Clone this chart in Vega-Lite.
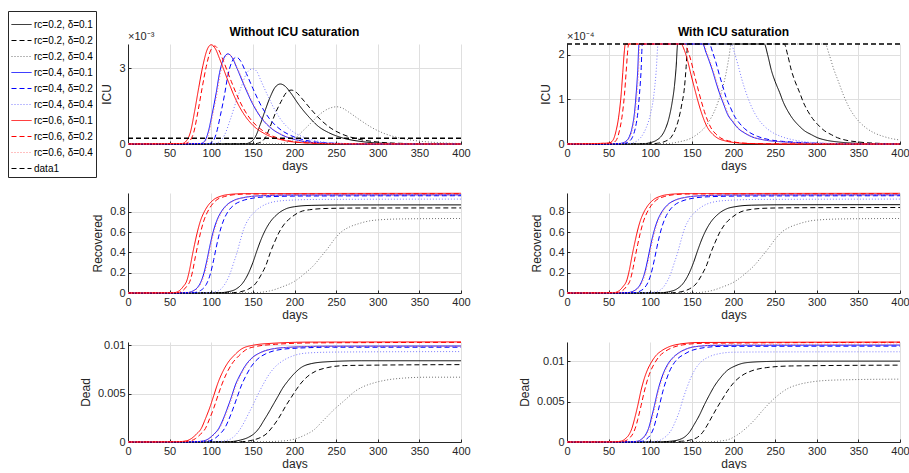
{
"$schema": "https://vega.github.io/schema/vega-lite/v6.json",
"autosize": {"type": "pad"},
"padding": {"left": 7, "top": 10, "right": 0, "bottom": 0},
"bounds": "flush",
"columns": 2,
"spacing": {"row": 49, "column": 106},
"resolve": {"scale": {"color": "shared", "strokeDash": "shared"}, "legend": {"color": "shared", "strokeDash": "shared"}},
"config": {
  "font": "Liberation Sans",
  "view": {"stroke": null},
  "axis": {"labelFont": "Liberation Sans", "labelFontSize": 11, "labelColor": "#262626", "titleFont": "Liberation Sans", "titleFontSize": 12, "titleFontWeight": "normal", "titleColor": "#262626", "domainColor": "#262626", "domainWidth": 1, "tickColor": "#262626", "tickSize": -3, "labelPadding": 6, "gridColor": "#dfdfdf", "gridWidth": 1, "grid": true, "labelFlush": false, "labelOverlap": false},
  "axisX": {"titlePadding": 2},
  "axisY": {"titlePadding": 5},
  "title": {"font": "Liberation Sans", "fontSize": 12, "fontWeight": "bold", "color": "#000000", "offset": -8, "anchor": "middle"}
},
"datasets": {
"iL": [
{"s":"A","d":0,"v":0},{"s":"A","d":141,"v":1.2e-5},{"s":"A","d":147,"v":7.1e-5},{"s":"A","d":153,"v":2.84e-4},{"s":"A","d":159,"v":7.82e-4},{"s":"A","d":165,"v":1.351e-3},{"s":"A","d":171,"v":1.872e-3},{"s":"A","d":177,"v":2.252e-3},{"s":"A","d":183,"v":2.37e-3},{"s":"A","d":189,"v":2.275e-3},{"s":"A","d":195,"v":2.038e-3},{"s":"A","d":206,"v":1.517e-3},{"s":"A","d":218,"v":1.043e-3},{"s":"A","d":229,"v":6.87e-4},{"s":"A","d":241,"v":4.5e-4},{"s":"A","d":258,"v":2.37e-4},{"s":"A","d":281,"v":9.5e-5},{"s":"A","d":310,"v":2.8e-5},{"s":"A","d":356,"v":5e-6},{"s":"A","d":400,"v":1e-6},
{"s":"B","d":0,"v":0},{"s":"B","d":152,"v":1.1e-5},{"s":"B","d":159,"v":6.4e-5},{"s":"B","d":165,"v":2.56e-4},{"s":"B","d":171,"v":7.03e-4},{"s":"B","d":177,"v":1.214e-3},{"s":"B","d":184,"v":1.683e-3},{"s":"B","d":190,"v":2.024e-3},{"s":"B","d":196,"v":2.13e-3},{"s":"B","d":202,"v":2.045e-3},{"s":"B","d":208,"v":1.832e-3},{"s":"B","d":220,"v":1.363e-3},{"s":"B","d":232,"v":9.37e-4},{"s":"B","d":244,"v":6.18e-4},{"s":"B","d":256,"v":4.05e-4},{"s":"B","d":274,"v":2.13e-4},{"s":"B","d":298,"v":8.5e-5},{"s":"B","d":328,"v":2.6e-5},{"s":"B","d":376,"v":4e-6},{"s":"B","d":400,"v":2e-6},
{"s":"C","d":0,"v":0},{"s":"C","d":178,"v":7e-6},{"s":"C","d":188,"v":4.4e-5},{"s":"C","d":199,"v":1.76e-4},{"s":"C","d":209,"v":4.85e-4},{"s":"C","d":220,"v":8.38e-4},{"s":"C","d":230,"v":1.161e-3},{"s":"C","d":241,"v":1.397e-3},{"s":"C","d":251,"v":1.47e-3},{"s":"C","d":258,"v":1.411e-3},{"s":"C","d":265,"v":1.264e-3},{"s":"C","d":279,"v":9.41e-4},{"s":"C","d":293,"v":6.47e-4},{"s":"C","d":307,"v":4.26e-4},{"s":"C","d":321,"v":2.79e-4},{"s":"C","d":342,"v":1.47e-4},{"s":"C","d":370,"v":5.9e-5},{"s":"C","d":400,"v":1.9e-5},
{"s":"D","d":0,"v":0},{"s":"D","d":87,"v":1.8e-5},{"s":"D","d":92,"v":1.07e-4},{"s":"D","d":96,"v":4.27e-4},{"s":"D","d":101,"v":1.175e-3},{"s":"D","d":106,"v":2.029e-3},{"s":"D","d":110,"v":2.812e-3},{"s":"D","d":115,"v":3.382e-3},{"s":"D","d":120,"v":3.56e-3},{"s":"D","d":125,"v":3.418e-3},{"s":"D","d":130,"v":3.062e-3},{"s":"D","d":140,"v":2.278e-3},{"s":"D","d":150,"v":1.566e-3},{"s":"D","d":160,"v":1.032e-3},{"s":"D","d":170,"v":6.76e-4},{"s":"D","d":185,"v":3.56e-4},{"s":"D","d":205,"v":1.42e-4},{"s":"D","d":230,"v":4.3e-5},{"s":"D","d":270,"v":7e-6},{"s":"D","d":400,"v":0},
{"s":"E","d":0,"v":0},{"s":"E","d":97,"v":1.7e-5},{"s":"E","d":102,"v":1.03e-4},{"s":"E","d":106,"v":4.12e-4},{"s":"E","d":111,"v":1.132e-3},{"s":"E","d":116,"v":1.955e-3},{"s":"E","d":120,"v":2.71e-3},{"s":"E","d":125,"v":3.259e-3},{"s":"E","d":130,"v":3.43e-3},{"s":"E","d":135,"v":3.293e-3},{"s":"E","d":140,"v":2.95e-3},{"s":"E","d":150,"v":2.195e-3},{"s":"E","d":160,"v":1.509e-3},{"s":"E","d":170,"v":9.95e-4},{"s":"E","d":180,"v":6.52e-4},{"s":"E","d":195,"v":3.43e-4},{"s":"E","d":215,"v":1.37e-4},{"s":"E","d":240,"v":4.1e-5},{"s":"E","d":280,"v":7e-6},{"s":"E","d":400,"v":0},
{"s":"F","d":0,"v":0},{"s":"F","d":103,"v":1.5e-5},{"s":"F","d":110,"v":8.9e-5},{"s":"F","d":116,"v":3.56e-4},{"s":"F","d":123,"v":9.8e-4},{"s":"F","d":130,"v":1.693e-3},{"s":"F","d":137,"v":2.346e-3},{"s":"F","d":143,"v":2.822e-3},{"s":"F","d":150,"v":2.97e-3},{"s":"F","d":155,"v":2.851e-3},{"s":"F","d":159,"v":2.554e-3},{"s":"F","d":168,"v":1.901e-3},{"s":"F","d":177,"v":1.307e-3},{"s":"F","d":186,"v":8.61e-4},{"s":"F","d":195,"v":5.64e-4},{"s":"F","d":209,"v":2.97e-4},{"s":"F","d":227,"v":1.19e-4},{"s":"F","d":249,"v":3.6e-5},{"s":"F","d":285,"v":6e-6},{"s":"F","d":400,"v":0},
{"s":"G","d":0,"v":0},{"s":"G","d":65,"v":2e-5},{"s":"G","d":70,"v":1.18e-4},{"s":"G","d":75,"v":4.7e-4},{"s":"G","d":80,"v":1.29e-3},{"s":"G","d":85,"v":2.23e-3},{"s":"G","d":90,"v":3.1e-3},{"s":"G","d":95,"v":3.72e-3},{"s":"G","d":100,"v":3.92e-3},{"s":"G","d":105,"v":3.76e-3},{"s":"G","d":110,"v":3.37e-3},{"s":"G","d":120,"v":2.51e-3},{"s":"G","d":130,"v":1.72e-3},{"s":"G","d":140,"v":1.14e-3},{"s":"G","d":150,"v":7.4e-4},{"s":"G","d":165,"v":3.9e-4},{"s":"G","d":185,"v":1.6e-4},{"s":"G","d":210,"v":5e-5},{"s":"G","d":250,"v":1e-5},{"s":"G","d":400,"v":0},
{"s":"H","d":0,"v":0},{"s":"H","d":69,"v":2e-5},{"s":"H","d":74,"v":1.16e-4},{"s":"H","d":79,"v":4.64e-4},{"s":"H","d":84,"v":1.277e-3},{"s":"H","d":89,"v":2.206e-3},{"s":"H","d":94,"v":3.057e-3},{"s":"H","d":99,"v":3.677e-3},{"s":"H","d":104,"v":3.87e-3},{"s":"H","d":109,"v":3.715e-3},{"s":"H","d":114,"v":3.328e-3},{"s":"H","d":124,"v":2.477e-3},{"s":"H","d":134,"v":1.703e-3},{"s":"H","d":144,"v":1.122e-3},{"s":"H","d":154,"v":7.35e-4},{"s":"H","d":169,"v":3.87e-4},{"s":"H","d":189,"v":1.55e-4},{"s":"H","d":214,"v":4.6e-5},{"s":"H","d":254,"v":8e-6},{"s":"H","d":400,"v":0},
{"s":"I","d":0,"v":0},{"s":"I","d":88,"v":1.8e-5},{"s":"I","d":93,"v":1.06e-4},{"s":"I","d":97,"v":4.25e-4},{"s":"I","d":102,"v":1.168e-3},{"s":"I","d":107,"v":2.018e-3},{"s":"I","d":111,"v":2.797e-3},{"s":"I","d":116,"v":3.363e-3},{"s":"I","d":121,"v":3.54e-3},{"s":"I","d":126,"v":3.398e-3},{"s":"I","d":131,"v":3.044e-3},{"s":"I","d":141,"v":2.266e-3},{"s":"I","d":151,"v":1.558e-3},{"s":"I","d":161,"v":1.027e-3},{"s":"I","d":171,"v":6.73e-4},{"s":"I","d":186,"v":3.54e-4},{"s":"I","d":206,"v":1.42e-4},{"s":"I","d":231,"v":4.2e-5},{"s":"I","d":271,"v":7e-6},{"s":"I","d":400,"v":0},
{"s":"J","d":0,"v":2.24e-4},{"s":"J","d":400,"v":2.24e-4}
],
"iR": [
{"s":"A","d":0,"v":0},{"s":"A","d":90,"v":5e-7},{"s":"A","d":100,"v":3e-6},{"s":"A","d":108,"v":9e-6},{"s":"A","d":113,"v":1.7e-5},{"s":"A","d":118,"v":3.3e-5},{"s":"A","d":123,"v":6.2e-5},{"s":"A","d":126,"v":9e-5},{"s":"A","d":129,"v":1.29e-4},{"s":"A","d":131,"v":1.7e-4},{"s":"A","d":133,"v":2.24e-4},{"s":"A","d":237,"v":2.24e-4},{"s":"A","d":241,"v":2e-4},{"s":"A","d":245.5,"v":1.65e-4},{"s":"A","d":250,"v":1.4e-4},{"s":"A","d":255.5,"v":1.15e-4},{"s":"A","d":260,"v":9.3e-5},{"s":"A","d":265.5,"v":7.3e-5},{"s":"A","d":271,"v":5.7e-5},{"s":"A","d":277.5,"v":4.3e-5},{"s":"A","d":285,"v":3e-5},{"s":"A","d":293.5,"v":2.1e-5},{"s":"A","d":301,"v":1.4e-5},{"s":"A","d":310,"v":9e-6},{"s":"A","d":326,"v":4.5e-6},{"s":"A","d":350,"v":1.5e-6},{"s":"A","d":380,"v":4e-7},{"s":"A","d":400,"v":2e-7},
{"s":"B","d":0,"v":0},{"s":"B","d":100,"v":5e-7},{"s":"B","d":110,"v":2e-6},{"s":"B","d":118,"v":6e-6},{"s":"B","d":125,"v":1.5e-5},{"s":"B","d":130,"v":3.2e-5},{"s":"B","d":134,"v":5.5e-5},{"s":"B","d":138,"v":9e-5},{"s":"B","d":141,"v":1.25e-4},{"s":"B","d":143,"v":1.7e-4},{"s":"B","d":145,"v":2.24e-4},{"s":"B","d":261,"v":2.24e-4},{"s":"B","d":265,"v":2e-4},{"s":"B","d":269.5,"v":1.65e-4},{"s":"B","d":274,"v":1.4e-4},{"s":"B","d":279.5,"v":1.15e-4},{"s":"B","d":284,"v":9.3e-5},{"s":"B","d":289.5,"v":7.3e-5},{"s":"B","d":295,"v":5.7e-5},{"s":"B","d":301.5,"v":4.3e-5},{"s":"B","d":309,"v":3e-5},{"s":"B","d":317.5,"v":2.1e-5},{"s":"B","d":325,"v":1.4e-5},{"s":"B","d":334,"v":9e-6},{"s":"B","d":350,"v":4.5e-6},{"s":"B","d":374,"v":1.5e-6},{"s":"B","d":400,"v":5e-7},
{"s":"C","d":0,"v":0},{"s":"C","d":120,"v":1e-6},{"s":"C","d":135,"v":5e-6},{"s":"C","d":149,"v":1.3e-5},{"s":"C","d":158,"v":2.4e-5},{"s":"C","d":165,"v":3.6e-5},{"s":"C","d":171,"v":5.2e-5},{"s":"C","d":177,"v":7.3e-5},{"s":"C","d":182,"v":9.7e-5},{"s":"C","d":187,"v":1.26e-4},{"s":"C","d":191,"v":1.58e-4},{"s":"C","d":195,"v":2e-4},{"s":"C","d":197,"v":2.24e-4},{"s":"C","d":310,"v":2.24e-4},{"s":"C","d":315,"v":2e-4},{"s":"C","d":320,"v":1.7e-4},{"s":"C","d":326,"v":1.4e-4},{"s":"C","d":332,"v":1.1e-4},{"s":"C","d":338,"v":8.5e-5},{"s":"C","d":344,"v":6.6e-5},{"s":"C","d":352,"v":4.8e-5},{"s":"C","d":360,"v":3.5e-5},{"s":"C","d":370,"v":2.4e-5},{"s":"C","d":380,"v":1.7e-5},{"s":"C","d":390,"v":1.2e-5},{"s":"C","d":400,"v":9e-6},
{"s":"D","d":0,"v":0},{"s":"D","d":60,"v":5e-7},{"s":"D","d":65,"v":1.5e-6},{"s":"D","d":70,"v":5e-6},{"s":"D","d":75,"v":1.7e-5},{"s":"D","d":78,"v":3.5e-5},{"s":"D","d":81,"v":6.9e-5},{"s":"D","d":83,"v":1.1e-4},{"s":"D","d":85,"v":1.65e-4},{"s":"D","d":86.5,"v":2.24e-4},{"s":"D","d":163,"v":2.24e-4},{"s":"D","d":167,"v":2.05e-4},{"s":"D","d":171,"v":1.85e-4},{"s":"D","d":175,"v":1.63e-4},{"s":"D","d":179,"v":1.38e-4},{"s":"D","d":183,"v":1.15e-4},{"s":"D","d":188,"v":9e-5},{"s":"D","d":193,"v":6.6e-5},{"s":"D","d":199,"v":5e-5},{"s":"D","d":205,"v":3.6e-5},{"s":"D","d":213,"v":2.5e-5},{"s":"D","d":221,"v":1.7e-5},{"s":"D","d":237,"v":9e-6},{"s":"D","d":262,"v":4.5e-6},{"s":"D","d":300,"v":1.2e-6},{"s":"D","d":350,"v":2e-7},{"s":"D","d":400,"v":0},
{"s":"E","d":0,"v":0},{"s":"E","d":64,"v":5e-7},{"s":"E","d":69,"v":1.5e-6},{"s":"E","d":74,"v":5e-6},{"s":"E","d":79,"v":1.7e-5},{"s":"E","d":82,"v":3.5e-5},{"s":"E","d":85,"v":6.9e-5},{"s":"E","d":87,"v":1.1e-4},{"s":"E","d":89,"v":1.65e-4},{"s":"E","d":90.5,"v":2.24e-4},{"s":"E","d":171,"v":2.24e-4},{"s":"E","d":175,"v":2.05e-4},{"s":"E","d":179,"v":1.82e-4},{"s":"E","d":183,"v":1.55e-4},{"s":"E","d":187,"v":1.3e-4},{"s":"E","d":191,"v":1.05e-4},{"s":"E","d":196,"v":8.3e-5},{"s":"E","d":201,"v":6.3e-5},{"s":"E","d":207,"v":4.7e-5},{"s":"E","d":213,"v":3.5e-5},{"s":"E","d":221,"v":2.4e-5},{"s":"E","d":229,"v":1.7e-5},{"s":"E","d":245,"v":9e-6},{"s":"E","d":270,"v":4.5e-6},{"s":"E","d":310,"v":1.2e-6},{"s":"E","d":360,"v":2e-7},{"s":"E","d":400,"v":0},
{"s":"F","d":0,"v":0},{"s":"F","d":75,"v":1e-6},{"s":"F","d":80,"v":3e-6},{"s":"F","d":85,"v":8e-6},{"s":"F","d":90,"v":1.8e-5},{"s":"F","d":95,"v":3.6e-5},{"s":"F","d":100,"v":6.5e-5},{"s":"F","d":104,"v":1.05e-4},{"s":"F","d":107,"v":1.6e-4},{"s":"F","d":109.5,"v":2.24e-4},{"s":"F","d":197,"v":2.24e-4},{"s":"F","d":201,"v":2.05e-4},{"s":"F","d":205,"v":1.8e-4},{"s":"F","d":210,"v":1.45e-4},{"s":"F","d":217,"v":1.05e-4},{"s":"F","d":223,"v":7.8e-5},{"s":"F","d":229,"v":5.8e-5},{"s":"F","d":237,"v":4e-5},{"s":"F","d":245,"v":2.8e-5},{"s":"F","d":257,"v":1.7e-5},{"s":"F","d":270,"v":1e-5},{"s":"F","d":298,"v":3e-6},{"s":"F","d":340,"v":6e-7},{"s":"F","d":400,"v":0},
{"s":"G","d":0,"v":0},{"s":"G","d":50,"v":2e-6},{"s":"G","d":55,"v":8e-6},{"s":"G","d":59,"v":3e-5},{"s":"G","d":62,"v":6e-5},{"s":"G","d":65,"v":1.1e-4},{"s":"G","d":67,"v":1.6e-4},{"s":"G","d":69,"v":2.1e-4},{"s":"G","d":70,"v":2.24e-4},{"s":"G","d":137,"v":2.24e-4},{"s":"G","d":141,"v":2.1e-4},{"s":"G","d":145,"v":1.86e-4},{"s":"G","d":149,"v":1.55e-4},{"s":"G","d":153,"v":1.26e-4},{"s":"G","d":157,"v":9.8e-5},{"s":"G","d":161,"v":7.3e-5},{"s":"G","d":165,"v":5.2e-5},{"s":"G","d":169,"v":3.6e-5},{"s":"G","d":175,"v":2.2e-5},{"s":"G","d":181,"v":1.3e-5},{"s":"G","d":190,"v":7e-6},{"s":"G","d":200,"v":3.5e-6},{"s":"G","d":220,"v":1e-6},{"s":"G","d":260,"v":1e-7},{"s":"G","d":400,"v":0},
{"s":"H","d":0,"v":0},{"s":"H","d":54,"v":2e-6},{"s":"H","d":59,"v":8e-6},{"s":"H","d":63,"v":3e-5},{"s":"H","d":66,"v":6e-5},{"s":"H","d":69,"v":1.1e-4},{"s":"H","d":71,"v":1.6e-4},{"s":"H","d":73,"v":2.1e-4},{"s":"H","d":74,"v":2.24e-4},{"s":"H","d":141,"v":2.24e-4},{"s":"H","d":145,"v":2.1e-4},{"s":"H","d":149,"v":1.86e-4},{"s":"H","d":153,"v":1.55e-4},{"s":"H","d":157,"v":1.26e-4},{"s":"H","d":161,"v":9.8e-5},{"s":"H","d":165,"v":7.3e-5},{"s":"H","d":169,"v":5.2e-5},{"s":"H","d":173,"v":3.6e-5},{"s":"H","d":179,"v":2.2e-5},{"s":"H","d":185,"v":1.3e-5},{"s":"H","d":194,"v":7e-6},{"s":"H","d":204,"v":3.5e-6},{"s":"H","d":224,"v":1e-6},{"s":"H","d":264,"v":1e-7},{"s":"H","d":400,"v":0},
{"s":"I","d":0,"v":0},{"s":"I","d":61,"v":5e-7},{"s":"I","d":66,"v":1.5e-6},{"s":"I","d":71,"v":5e-6},{"s":"I","d":76,"v":1.7e-5},{"s":"I","d":79,"v":3.5e-5},{"s":"I","d":82,"v":6.9e-5},{"s":"I","d":84,"v":1.1e-4},{"s":"I","d":86,"v":1.65e-4},{"s":"I","d":87.5,"v":2.24e-4},{"s":"I","d":164,"v":2.24e-4},{"s":"I","d":168,"v":2.05e-4},{"s":"I","d":172,"v":1.85e-4},{"s":"I","d":176,"v":1.63e-4},{"s":"I","d":180,"v":1.38e-4},{"s":"I","d":184,"v":1.15e-4},{"s":"I","d":189,"v":9e-5},{"s":"I","d":194,"v":6.6e-5},{"s":"I","d":200,"v":5e-5},{"s":"I","d":206,"v":3.6e-5},{"s":"I","d":214,"v":2.5e-5},{"s":"I","d":222,"v":1.7e-5},{"s":"I","d":238,"v":9e-6},{"s":"I","d":263,"v":4.5e-6},{"s":"I","d":301,"v":1.2e-6},{"s":"I","d":351,"v":2e-7},{"s":"I","d":400,"v":0},
{"s":"J","d":0,"v":2.24e-4},{"s":"J","d":400,"v":2.24e-4}
],
"rL": [
{"s":"A","d":0,"v":0},{"s":"A","d":110,"v":0.003},{"s":"A","d":120,"v":0.012},{"s":"A","d":130,"v":0.04},{"s":"A","d":138,"v":0.1},{"s":"A","d":145,"v":0.2},{"s":"A","d":150,"v":0.3},{"s":"A","d":155,"v":0.42},{"s":"A","d":160,"v":0.53},{"s":"A","d":165,"v":0.62},{"s":"A","d":170,"v":0.69},{"s":"A","d":180,"v":0.78},{"s":"A","d":190,"v":0.83},{"s":"A","d":200,"v":0.85},{"s":"A","d":220,"v":0.863},{"s":"A","d":260,"v":0.867},{"s":"A","d":400,"v":0.868},
{"s":"B","d":0,"v":0},{"s":"B","d":125,"v":0.003},{"s":"B","d":135,"v":0.012},{"s":"B","d":145,"v":0.04},{"s":"B","d":153,"v":0.09},{"s":"B","d":160,"v":0.18},{"s":"B","d":166,"v":0.28},{"s":"B","d":171,"v":0.4},{"s":"B","d":176,"v":0.5},{"s":"B","d":181,"v":0.59},{"s":"B","d":187,"v":0.67},{"s":"B","d":197,"v":0.75},{"s":"B","d":207,"v":0.8},{"s":"B","d":218,"v":0.82},{"s":"B","d":240,"v":0.833},{"s":"B","d":280,"v":0.837},{"s":"B","d":400,"v":0.838},
{"s":"C","d":0,"v":0},{"s":"C","d":150,"v":0.003},{"s":"C","d":170,"v":0.02},{"s":"C","d":185,"v":0.06},{"s":"C","d":200,"v":0.115},{"s":"C","d":212,"v":0.19},{"s":"C","d":224,"v":0.28},{"s":"C","d":232,"v":0.36},{"s":"C","d":240,"v":0.44},{"s":"C","d":248,"v":0.53},{"s":"C","d":256,"v":0.6},{"s":"C","d":266,"v":0.65},{"s":"C","d":276,"v":0.68},{"s":"C","d":290,"v":0.71},{"s":"C","d":304,"v":0.722},{"s":"C","d":330,"v":0.73},{"s":"C","d":400,"v":0.734},
{"s":"D","d":0,"v":0},{"s":"D","d":70,"v":0.003},{"s":"D","d":78,"v":0.02},{"s":"D","d":83,"v":0.05},{"s":"D","d":87,"v":0.1},{"s":"D","d":91,"v":0.19},{"s":"D","d":95,"v":0.33},{"s":"D","d":98,"v":0.45},{"s":"D","d":101,"v":0.56},{"s":"D","d":104,"v":0.65},{"s":"D","d":107,"v":0.72},{"s":"D","d":112,"v":0.8},{"s":"D","d":119,"v":0.87},{"s":"D","d":128,"v":0.915},{"s":"D","d":139,"v":0.94},{"s":"D","d":160,"v":0.958},{"s":"D","d":200,"v":0.965},{"s":"D","d":400,"v":0.967},
{"s":"E","d":0,"v":0},{"s":"E","d":78,"v":0.003},{"s":"E","d":86,"v":0.02},{"s":"E","d":91,"v":0.05},{"s":"E","d":95,"v":0.1},{"s":"E","d":99,"v":0.19},{"s":"E","d":103,"v":0.33},{"s":"E","d":106,"v":0.45},{"s":"E","d":109,"v":0.56},{"s":"E","d":112,"v":0.65},{"s":"E","d":115,"v":0.72},{"s":"E","d":120,"v":0.8},{"s":"E","d":127,"v":0.865},{"s":"E","d":136,"v":0.905},{"s":"E","d":147,"v":0.93},{"s":"E","d":168,"v":0.948},{"s":"E","d":208,"v":0.955},{"s":"E","d":400,"v":0.958},
{"s":"F","d":0,"v":0},{"s":"F","d":95,"v":0.003},{"s":"F","d":107,"v":0.017},{"s":"F","d":113,"v":0.05},{"s":"F","d":118,"v":0.11},{"s":"F","d":123,"v":0.2},{"s":"F","d":127,"v":0.3},{"s":"F","d":131,"v":0.4},{"s":"F","d":135,"v":0.52},{"s":"F","d":139,"v":0.63},{"s":"F","d":145,"v":0.73},{"s":"F","d":151,"v":0.79},{"s":"F","d":160,"v":0.85},{"s":"F","d":171,"v":0.89},{"s":"F","d":190,"v":0.912},{"s":"F","d":230,"v":0.922},{"s":"F","d":400,"v":0.925},
{"s":"G","d":0,"v":0},{"s":"G","d":55,"v":0.003},{"s":"G","d":62,"v":0.025},{"s":"G","d":66,"v":0.06},{"s":"G","d":71,"v":0.13},{"s":"G","d":74,"v":0.23},{"s":"G","d":77,"v":0.36},{"s":"G","d":80,"v":0.48},{"s":"G","d":83,"v":0.59},{"s":"G","d":87,"v":0.71},{"s":"G","d":91,"v":0.79},{"s":"G","d":96,"v":0.86},{"s":"G","d":103,"v":0.92},{"s":"G","d":112,"v":0.955},{"s":"G","d":123,"v":0.972},{"s":"G","d":140,"v":0.979},{"s":"G","d":400,"v":0.982},
{"s":"H","d":0,"v":0},{"s":"H","d":59,"v":0.003},{"s":"H","d":66,"v":0.025},{"s":"H","d":70,"v":0.06},{"s":"H","d":75,"v":0.13},{"s":"H","d":78,"v":0.23},{"s":"H","d":81,"v":0.36},{"s":"H","d":84,"v":0.48},{"s":"H","d":87,"v":0.59},{"s":"H","d":91,"v":0.71},{"s":"H","d":95,"v":0.79},{"s":"H","d":100,"v":0.86},{"s":"H","d":107,"v":0.92},{"s":"H","d":116,"v":0.95},{"s":"H","d":127,"v":0.968},{"s":"H","d":144,"v":0.975},{"s":"H","d":400,"v":0.978},
{"s":"I","d":0,"v":0},{"s":"I","d":71,"v":0.003},{"s":"I","d":79,"v":0.02},{"s":"I","d":84,"v":0.05},{"s":"I","d":88,"v":0.1},{"s":"I","d":92,"v":0.19},{"s":"I","d":96,"v":0.33},{"s":"I","d":99,"v":0.45},{"s":"I","d":102,"v":0.56},{"s":"I","d":105,"v":0.65},{"s":"I","d":108,"v":0.72},{"s":"I","d":113,"v":0.8},{"s":"I","d":120,"v":0.87},{"s":"I","d":129,"v":0.915},{"s":"I","d":140,"v":0.94},{"s":"I","d":161,"v":0.958},{"s":"I","d":201,"v":0.965},{"s":"I","d":400,"v":0.967}
],
"rR": [
{"s":"A","d":0,"v":0},{"s":"A","d":112,"v":0.003},{"s":"A","d":122,"v":0.012},{"s":"A","d":132,"v":0.04},{"s":"A","d":140,"v":0.1},{"s":"A","d":147,"v":0.2},{"s":"A","d":152,"v":0.3},{"s":"A","d":157,"v":0.42},{"s":"A","d":162,"v":0.53},{"s":"A","d":167,"v":0.62},{"s":"A","d":172,"v":0.69},{"s":"A","d":182,"v":0.78},{"s":"A","d":192,"v":0.83},{"s":"A","d":202,"v":0.85},{"s":"A","d":222,"v":0.865},{"s":"A","d":262,"v":0.869},{"s":"A","d":400,"v":0.87},
{"s":"B","d":0,"v":0},{"s":"B","d":127,"v":0.003},{"s":"B","d":137,"v":0.012},{"s":"B","d":147,"v":0.04},{"s":"B","d":155,"v":0.09},{"s":"B","d":162,"v":0.18},{"s":"B","d":168,"v":0.28},{"s":"B","d":173,"v":0.4},{"s":"B","d":178,"v":0.5},{"s":"B","d":183,"v":0.59},{"s":"B","d":189,"v":0.67},{"s":"B","d":199,"v":0.75},{"s":"B","d":209,"v":0.8},{"s":"B","d":220,"v":0.822},{"s":"B","d":242,"v":0.836},{"s":"B","d":282,"v":0.84},{"s":"B","d":400,"v":0.842},
{"s":"C","d":0,"v":0},{"s":"C","d":152,"v":0.003},{"s":"C","d":172,"v":0.02},{"s":"C","d":187,"v":0.06},{"s":"C","d":202,"v":0.115},{"s":"C","d":214,"v":0.19},{"s":"C","d":226,"v":0.28},{"s":"C","d":234,"v":0.36},{"s":"C","d":242,"v":0.44},{"s":"C","d":250,"v":0.53},{"s":"C","d":258,"v":0.6},{"s":"C","d":268,"v":0.65},{"s":"C","d":278,"v":0.68},{"s":"C","d":292,"v":0.71},{"s":"C","d":306,"v":0.722},{"s":"C","d":332,"v":0.73},{"s":"C","d":400,"v":0.734},
{"s":"D","d":0,"v":0},{"s":"D","d":72,"v":0.003},{"s":"D","d":80,"v":0.02},{"s":"D","d":85,"v":0.05},{"s":"D","d":89,"v":0.1},{"s":"D","d":93,"v":0.19},{"s":"D","d":97,"v":0.33},{"s":"D","d":100,"v":0.45},{"s":"D","d":103,"v":0.56},{"s":"D","d":106,"v":0.65},{"s":"D","d":109,"v":0.72},{"s":"D","d":114,"v":0.8},{"s":"D","d":121,"v":0.87},{"s":"D","d":130,"v":0.915},{"s":"D","d":141,"v":0.94},{"s":"D","d":162,"v":0.958},{"s":"D","d":202,"v":0.965},{"s":"D","d":400,"v":0.967},
{"s":"E","d":0,"v":0},{"s":"E","d":80,"v":0.003},{"s":"E","d":88,"v":0.02},{"s":"E","d":93,"v":0.05},{"s":"E","d":97,"v":0.1},{"s":"E","d":101,"v":0.19},{"s":"E","d":105,"v":0.33},{"s":"E","d":108,"v":0.45},{"s":"E","d":111,"v":0.56},{"s":"E","d":114,"v":0.65},{"s":"E","d":117,"v":0.72},{"s":"E","d":122,"v":0.8},{"s":"E","d":129,"v":0.865},{"s":"E","d":138,"v":0.905},{"s":"E","d":149,"v":0.93},{"s":"E","d":170,"v":0.948},{"s":"E","d":210,"v":0.955},{"s":"E","d":400,"v":0.958},
{"s":"F","d":0,"v":0},{"s":"F","d":97,"v":0.003},{"s":"F","d":109,"v":0.017},{"s":"F","d":115,"v":0.05},{"s":"F","d":120,"v":0.11},{"s":"F","d":125,"v":0.2},{"s":"F","d":129,"v":0.3},{"s":"F","d":133,"v":0.4},{"s":"F","d":137,"v":0.52},{"s":"F","d":141,"v":0.63},{"s":"F","d":147,"v":0.73},{"s":"F","d":153,"v":0.79},{"s":"F","d":162,"v":0.85},{"s":"F","d":173,"v":0.89},{"s":"F","d":192,"v":0.912},{"s":"F","d":232,"v":0.922},{"s":"F","d":400,"v":0.925},
{"s":"G","d":0,"v":0},{"s":"G","d":56,"v":0.003},{"s":"G","d":63,"v":0.025},{"s":"G","d":67,"v":0.06},{"s":"G","d":72,"v":0.13},{"s":"G","d":75,"v":0.23},{"s":"G","d":78,"v":0.36},{"s":"G","d":81,"v":0.48},{"s":"G","d":84,"v":0.59},{"s":"G","d":88,"v":0.71},{"s":"G","d":92,"v":0.79},{"s":"G","d":97,"v":0.86},{"s":"G","d":104,"v":0.92},{"s":"G","d":113,"v":0.955},{"s":"G","d":124,"v":0.972},{"s":"G","d":141,"v":0.979},{"s":"G","d":400,"v":0.982},
{"s":"H","d":0,"v":0},{"s":"H","d":60,"v":0.003},{"s":"H","d":67,"v":0.025},{"s":"H","d":71,"v":0.06},{"s":"H","d":76,"v":0.13},{"s":"H","d":79,"v":0.23},{"s":"H","d":82,"v":0.36},{"s":"H","d":85,"v":0.48},{"s":"H","d":88,"v":0.59},{"s":"H","d":92,"v":0.71},{"s":"H","d":96,"v":0.79},{"s":"H","d":101,"v":0.86},{"s":"H","d":108,"v":0.92},{"s":"H","d":117,"v":0.95},{"s":"H","d":128,"v":0.968},{"s":"H","d":145,"v":0.975},{"s":"H","d":400,"v":0.978},
{"s":"I","d":0,"v":0},{"s":"I","d":73,"v":0.003},{"s":"I","d":81,"v":0.02},{"s":"I","d":86,"v":0.05},{"s":"I","d":90,"v":0.1},{"s":"I","d":94,"v":0.19},{"s":"I","d":98,"v":0.33},{"s":"I","d":101,"v":0.45},{"s":"I","d":104,"v":0.56},{"s":"I","d":107,"v":0.65},{"s":"I","d":110,"v":0.72},{"s":"I","d":115,"v":0.8},{"s":"I","d":122,"v":0.87},{"s":"I","d":131,"v":0.915},{"s":"I","d":142,"v":0.94},{"s":"I","d":163,"v":0.958},{"s":"I","d":203,"v":0.965},{"s":"I","d":400,"v":0.967}
],
"dL": [
{"s":"A","d":0,"v":0},{"s":"A","d":120,"v":3e-5},{"s":"A","d":135,"v":2e-4},{"s":"A","d":145,"v":5e-4},{"s":"A","d":152,"v":9e-4},{"s":"A","d":158,"v":0.0015},{"s":"A","d":163,"v":0.0022},{"s":"A","d":168,"v":0.0029},{"s":"A","d":174,"v":0.0038},{"s":"A","d":180,"v":0.0047},{"s":"A","d":186,"v":0.0056},{"s":"A","d":192,"v":0.0063},{"s":"A","d":200,"v":0.0071},{"s":"A","d":208,"v":0.0077},{"s":"A","d":220,"v":0.0081},{"s":"A","d":240,"v":0.0083},{"s":"A","d":280,"v":0.0084},{"s":"A","d":400,"v":0.0084},
{"s":"B","d":0,"v":0},{"s":"B","d":135,"v":3e-5},{"s":"B","d":150,"v":2e-4},{"s":"B","d":160,"v":5e-4},{"s":"B","d":167,"v":9e-4},{"s":"B","d":173,"v":0.0015},{"s":"B","d":179,"v":0.0022},{"s":"B","d":184,"v":0.0029},{"s":"B","d":190,"v":0.0038},{"s":"B","d":196,"v":0.0046},{"s":"B","d":202,"v":0.0054},{"s":"B","d":208,"v":0.0061},{"s":"B","d":216,"v":0.0068},{"s":"B","d":225,"v":0.0073},{"s":"B","d":240,"v":0.0077},{"s":"B","d":260,"v":0.0079},{"s":"B","d":300,"v":0.00795},{"s":"B","d":400,"v":0.008},
{"s":"C","d":0,"v":0},{"s":"C","d":160,"v":3e-5},{"s":"C","d":185,"v":1e-4},{"s":"C","d":200,"v":3e-4},{"s":"C","d":212,"v":7e-4},{"s":"C","d":224,"v":0.0013},{"s":"C","d":232,"v":0.002},{"s":"C","d":240,"v":0.0027},{"s":"C","d":248,"v":0.0034},{"s":"C","d":256,"v":0.004},{"s":"C","d":264,"v":0.0046},{"s":"C","d":272,"v":0.0052},{"s":"C","d":282,"v":0.0057},{"s":"C","d":295,"v":0.0061},{"s":"C","d":310,"v":0.0064},{"s":"C","d":330,"v":0.0066},{"s":"C","d":360,"v":0.0067},{"s":"C","d":400,"v":0.0067},
{"s":"D","d":0,"v":0},{"s":"D","d":80,"v":3e-5},{"s":"D","d":91,"v":1.2e-4},{"s":"D","d":97,"v":3.5e-4},{"s":"D","d":103,"v":8e-4},{"s":"D","d":109,"v":0.0014},{"s":"D","d":114,"v":0.0023},{"s":"D","d":119,"v":0.0034},{"s":"D","d":124,"v":0.0046},{"s":"D","d":129,"v":0.0059},{"s":"D","d":135,"v":0.007},{"s":"D","d":141,"v":0.0079},{"s":"D","d":149,"v":0.0087},{"s":"D","d":158,"v":0.0092},{"s":"D","d":172,"v":0.0096},{"s":"D","d":195,"v":0.0098},{"s":"D","d":240,"v":0.0099},{"s":"D","d":400,"v":0.00992},
{"s":"E","d":0,"v":0},{"s":"E","d":87,"v":3e-5},{"s":"E","d":98,"v":1.2e-4},{"s":"E","d":104,"v":3.5e-4},{"s":"E","d":110,"v":8e-4},{"s":"E","d":116,"v":0.0014},{"s":"E","d":121,"v":0.0023},{"s":"E","d":126,"v":0.0034},{"s":"E","d":131,"v":0.0046},{"s":"E","d":136,"v":0.0058},{"s":"E","d":142,"v":0.0069},{"s":"E","d":148,"v":0.0078},{"s":"E","d":156,"v":0.0086},{"s":"E","d":165,"v":0.0091},{"s":"E","d":179,"v":0.0095},{"s":"E","d":202,"v":0.0097},{"s":"E","d":247,"v":0.0098},{"s":"E","d":400,"v":0.0098},
{"s":"F","d":0,"v":0},{"s":"F","d":105,"v":3e-5},{"s":"F","d":118,"v":1.5e-4},{"s":"F","d":125,"v":4e-4},{"s":"F","d":132,"v":0.001},{"s":"F","d":138,"v":0.0018},{"s":"F","d":144,"v":0.0028},{"s":"F","d":150,"v":0.0038},{"s":"F","d":156,"v":0.0049},{"s":"F","d":162,"v":0.0059},{"s":"F","d":168,"v":0.0068},{"s":"F","d":176,"v":0.0077},{"s":"F","d":186,"v":0.0084},{"s":"F","d":198,"v":0.0089},{"s":"F","d":215,"v":0.0092},{"s":"F","d":250,"v":0.0093},{"s":"F","d":400,"v":0.00935},
{"s":"G","d":0,"v":0},{"s":"G","d":60,"v":3e-5},{"s":"G","d":70,"v":1.2e-4},{"s":"G","d":76,"v":3.5e-4},{"s":"G","d":82,"v":8e-4},{"s":"G","d":88,"v":0.0014},{"s":"G","d":93,"v":0.0024},{"s":"G","d":98,"v":0.0035},{"s":"G","d":103,"v":0.0048},{"s":"G","d":108,"v":0.0061},{"s":"G","d":114,"v":0.0073},{"s":"G","d":120,"v":0.0082},{"s":"G","d":128,"v":0.009},{"s":"G","d":136,"v":0.0096},{"s":"G","d":150,"v":0.01},{"s":"G","d":172,"v":0.0102},{"s":"G","d":220,"v":0.01033},{"s":"G","d":400,"v":0.01035},
{"s":"H","d":0,"v":0},{"s":"H","d":65,"v":3e-5},{"s":"H","d":75,"v":1.2e-4},{"s":"H","d":81,"v":3.5e-4},{"s":"H","d":87,"v":8e-4},{"s":"H","d":93,"v":0.0014},{"s":"H","d":98,"v":0.0024},{"s":"H","d":103,"v":0.0035},{"s":"H","d":108,"v":0.0048},{"s":"H","d":113,"v":0.006},{"s":"H","d":119,"v":0.0072},{"s":"H","d":125,"v":0.0081},{"s":"H","d":133,"v":0.0089},{"s":"H","d":141,"v":0.0095},{"s":"H","d":155,"v":0.0099},{"s":"H","d":177,"v":0.0101},{"s":"H","d":225,"v":0.01025},{"s":"H","d":400,"v":0.0103},
{"s":"I","d":0,"v":0},{"s":"I","d":81,"v":3e-5},{"s":"I","d":92,"v":1.2e-4},{"s":"I","d":98,"v":3.5e-4},{"s":"I","d":104,"v":8e-4},{"s":"I","d":110,"v":0.0014},{"s":"I","d":115,"v":0.0023},{"s":"I","d":120,"v":0.0034},{"s":"I","d":125,"v":0.0046},{"s":"I","d":130,"v":0.0059},{"s":"I","d":136,"v":0.007},{"s":"I","d":142,"v":0.0079},{"s":"I","d":150,"v":0.0087},{"s":"I","d":159,"v":0.0092},{"s":"I","d":173,"v":0.0096},{"s":"I","d":196,"v":0.0098},{"s":"I","d":241,"v":0.0099},{"s":"I","d":400,"v":0.0099}
],
"dR": [
{"s":"A","d":0,"v":0},{"s":"A","d":110,"v":2e-5},{"s":"A","d":125,"v":1e-4},{"s":"A","d":135,"v":3e-4},{"s":"A","d":141,"v":6e-4},{"s":"A","d":147,"v":0.0012},{"s":"A","d":153,"v":0.0022},{"s":"A","d":159,"v":0.0033},{"s":"A","d":165,"v":0.0046},{"s":"A","d":171,"v":0.0058},{"s":"A","d":177,"v":0.0069},{"s":"A","d":184,"v":0.0079},{"s":"A","d":192,"v":0.0088},{"s":"A","d":202,"v":0.0094},{"s":"A","d":215,"v":0.0098},{"s":"A","d":240,"v":0.00995},{"s":"A","d":280,"v":0.01},{"s":"A","d":400,"v":0.01},
{"s":"B","d":0,"v":0},{"s":"B","d":120,"v":2e-5},{"s":"B","d":138,"v":1e-4},{"s":"B","d":150,"v":3e-4},{"s":"B","d":157,"v":6e-4},{"s":"B","d":163,"v":0.0012},{"s":"B","d":168,"v":0.002},{"s":"B","d":174,"v":0.0031},{"s":"B","d":180,"v":0.0042},{"s":"B","d":186,"v":0.0052},{"s":"B","d":192,"v":0.0062},{"s":"B","d":200,"v":0.0073},{"s":"B","d":210,"v":0.0082},{"s":"B","d":222,"v":0.0088},{"s":"B","d":240,"v":0.0092},{"s":"B","d":270,"v":0.0094},{"s":"B","d":400,"v":0.0095},
{"s":"C","d":0,"v":0},{"s":"C","d":170,"v":3e-5},{"s":"C","d":190,"v":2e-4},{"s":"C","d":205,"v":9e-4},{"s":"C","d":215,"v":0.0017},{"s":"C","d":225,"v":0.0027},{"s":"C","d":235,"v":0.0039},{"s":"C","d":245,"v":0.005},{"s":"C","d":255,"v":0.0059},{"s":"C","d":265,"v":0.0066},{"s":"C","d":278,"v":0.0071},{"s":"C","d":292,"v":0.0074},{"s":"C","d":310,"v":0.0076},{"s":"C","d":340,"v":0.0077},{"s":"C","d":400,"v":0.00777},
{"s":"D","d":0,"v":0},{"s":"D","d":75,"v":2e-5},{"s":"D","d":85,"v":1e-4},{"s":"D","d":90,"v":4e-4},{"s":"D","d":95,"v":0.001},{"s":"D","d":98,"v":0.0017},{"s":"D","d":101,"v":0.0028},{"s":"D","d":105,"v":0.0045},{"s":"D","d":109,"v":0.0063},{"s":"D","d":113,"v":0.0077},{"s":"D","d":117,"v":0.0088},{"s":"D","d":121,"v":0.0096},{"s":"D","d":127,"v":0.0104},{"s":"D","d":134,"v":0.011},{"s":"D","d":141,"v":0.0114},{"s":"D","d":155,"v":0.0118},{"s":"D","d":180,"v":0.01195},{"s":"D","d":400,"v":0.01198},
{"s":"E","d":0,"v":0},{"s":"E","d":81,"v":2e-5},{"s":"E","d":91,"v":1e-4},{"s":"E","d":96,"v":4e-4},{"s":"E","d":101,"v":0.001},{"s":"E","d":104,"v":0.0017},{"s":"E","d":107,"v":0.0028},{"s":"E","d":111,"v":0.0045},{"s":"E","d":115,"v":0.0062},{"s":"E","d":119,"v":0.0076},{"s":"E","d":123,"v":0.0087},{"s":"E","d":127,"v":0.0095},{"s":"E","d":133,"v":0.0103},{"s":"E","d":140,"v":0.0108},{"s":"E","d":147,"v":0.0112},{"s":"E","d":161,"v":0.0116},{"s":"E","d":186,"v":0.01182},{"s":"E","d":400,"v":0.01185},
{"s":"F","d":0,"v":0},{"s":"F","d":95,"v":2e-5},{"s":"F","d":108,"v":1e-4},{"s":"F","d":115,"v":4e-4},{"s":"F","d":121,"v":9e-4},{"s":"F","d":126,"v":0.0016},{"s":"F","d":130,"v":0.0025},{"s":"F","d":135,"v":0.0038},{"s":"F","d":139,"v":0.0052},{"s":"F","d":144,"v":0.0067},{"s":"F","d":149,"v":0.008},{"s":"F","d":154,"v":0.009},{"s":"F","d":161,"v":0.0099},{"s":"F","d":170,"v":0.0105},{"s":"F","d":182,"v":0.0109},{"s":"F","d":200,"v":0.0111},{"s":"F","d":240,"v":0.01113},{"s":"F","d":400,"v":0.01115},
{"s":"G","d":0,"v":0},{"s":"G","d":55,"v":2e-5},{"s":"G","d":65,"v":1e-4},{"s":"G","d":70,"v":4e-4},{"s":"G","d":75,"v":0.001},{"s":"G","d":78,"v":0.0017},{"s":"G","d":81,"v":0.0028},{"s":"G","d":85,"v":0.0045},{"s":"G","d":89,"v":0.0064},{"s":"G","d":93,"v":0.0079},{"s":"G","d":97,"v":0.009},{"s":"G","d":101,"v":0.0098},{"s":"G","d":107,"v":0.0107},{"s":"G","d":114,"v":0.0113},{"s":"G","d":121,"v":0.0117},{"s":"G","d":135,"v":0.0121},{"s":"G","d":160,"v":0.0123},{"s":"G","d":400,"v":0.01235},
{"s":"H","d":0,"v":0},{"s":"H","d":59,"v":2e-5},{"s":"H","d":69,"v":1e-4},{"s":"H","d":74,"v":4e-4},{"s":"H","d":79,"v":0.001},{"s":"H","d":82,"v":0.0017},{"s":"H","d":85,"v":0.0028},{"s":"H","d":89,"v":0.0045},{"s":"H","d":93,"v":0.0063},{"s":"H","d":97,"v":0.0078},{"s":"H","d":101,"v":0.0089},{"s":"H","d":105,"v":0.0097},{"s":"H","d":111,"v":0.0106},{"s":"H","d":118,"v":0.0112},{"s":"H","d":125,"v":0.0116},{"s":"H","d":139,"v":0.012},{"s":"H","d":164,"v":0.0122},{"s":"H","d":400,"v":0.01232},
{"s":"I","d":0,"v":0},{"s":"I","d":76,"v":2e-5},{"s":"I","d":86,"v":1e-4},{"s":"I","d":91,"v":4e-4},{"s":"I","d":96,"v":0.001},{"s":"I","d":99,"v":0.0017},{"s":"I","d":102,"v":0.0028},{"s":"I","d":106,"v":0.0045},{"s":"I","d":110,"v":0.0063},{"s":"I","d":114,"v":0.0077},{"s":"I","d":118,"v":0.0088},{"s":"I","d":122,"v":0.0096},{"s":"I","d":128,"v":0.0104},{"s":"I","d":135,"v":0.011},{"s":"I","d":142,"v":0.0114},{"s":"I","d":156,"v":0.0118},{"s":"I","d":181,"v":0.012},{"s":"I","d":400,"v":0.0121}
]
},
"concat": [
{
 "width": 333, "height": 100,
 "title": "Without ICU saturation",
 "data": {"name": "iL"},
 "layer": [
  {"transform": [{"filter": "datum.s != 'J'"}],
   "mark": {"type": "line", "strokeWidth": 1, "interpolate": "monotone"},
   "encoding": {
    "x": {"field": "d", "type": "quantitative", "scale": {"domain": [0, 400], "nice": false}, "axis": {"values": [0,50,100,150,200,250,300,350,400], "title": "days"}},
    "y": {"field": "v", "type": "quantitative", "scale": {"domain": [0, 0.00395], "nice": false}, "axis": {"values": [0,0.001,0.002,0.003], "labelExpr": "round(datum.value*1000)", "title": "ICU"}},
    "color": {"field": "s", "type": "nominal", "scale": {"domain": ["A","B","C","D","E","F","G","H","I","J"], "range": ["#000000","#000000","#707070","#0000ff","#0000ff","#7a7aff","#ff0000","#ff0000","#ff8080","#000000"]},
      "legend": {"title": null, "orient": "none", "legendX": -120, "legendY": -33, "strokeColor": "#262626", "fillColor": "#ffffff", "padding": 3, "symbolType": "stroke", "symbolSize": 400, "symbolStrokeWidth": 1, "labelFont": "Liberation Sans", "labelFontSize": 10, "labelColor": "#000000", "labelAlign": "left", "rowPadding": 0, "labelOffset": 2,
        "labelExpr": "{'A':'rc=0.2, δ=0.1','B':'rc=0.2, δ=0.2','C':'rc=0.2, δ=0.4','D':'rc=0.4, δ=0.1','E':'rc=0.4, δ=0.2','F':'rc=0.4, δ=0.4','G':'rc=0.6, δ=0.1','H':'rc=0.6, δ=0.2','I':'rc=0.6, δ=0.4','J':'data1'}[datum.label]"}},
    "strokeDash": {"field": "s", "type": "nominal", "scale": {"domain": ["A","B","C","D","E","F","G","H","I","J"], "range": [[1,0],[5,3],[1,2],[1,0],[5,3],[1,2],[1,0],[5,3],[1,2],[5,3]]},
      "legend": {"title": null, "orient": "none", "legendX": -120, "legendY": -33, "strokeColor": "#262626", "fillColor": "#ffffff", "padding": 3, "symbolType": "stroke", "symbolSize": 400, "symbolStrokeWidth": 1, "labelFont": "Liberation Sans", "labelFontSize": 10, "labelColor": "#000000", "labelAlign": "left", "rowPadding": 0, "labelOffset": 2,
        "labelExpr": "{'A':'rc=0.2, δ=0.1','B':'rc=0.2, δ=0.2','C':'rc=0.2, δ=0.4','D':'rc=0.4, δ=0.1','E':'rc=0.4, δ=0.2','F':'rc=0.4, δ=0.4','G':'rc=0.6, δ=0.1','H':'rc=0.6, δ=0.2','I':'rc=0.6, δ=0.4','J':'data1'}[datum.label]"}}
   }},
  {"transform": [{"filter": "datum.s == 'J'"}],
   "mark": {"type": "line", "strokeWidth": 1.5},
   "encoding": {
    "x": {"field": "d", "type": "quantitative"},
    "y": {"field": "v", "type": "quantitative"},
    "color": {"field": "s", "type": "nominal"},
    "strokeDash": {"field": "s", "type": "nominal"}
   }},
  {"data": {"values": [{"t": "×10⁻³"}]},
   "mark": {"type": "text", "align": "left", "baseline": "bottom", "dy": -2, "fontSize": 11, "color": "#262626", "font": "Liberation Sans"},
   "encoding": {"x": {"datum": 0, "type": "quantitative"}, "y": {"datum": 0.00395, "type": "quantitative"}, "text": {"field": "t"}}}
 ]
},
{
 "width": 333, "height": 100,
 "title": "With ICU saturation",
 "data": {"name": "iR"},
 "layer": [
  {"transform": [{"filter": "datum.s != 'J'"}],
   "mark": {"type": "line", "strokeWidth": 1, "interpolate": "monotone"},
   "encoding": {
    "x": {"field": "d", "type": "quantitative", "scale": {"domain": [0, 400], "nice": false}, "axis": {"values": [0,50,100,150,200,250,300,350,400], "title": "days"}},
    "y": {"field": "v", "type": "quantitative", "scale": {"domain": [0, 0.000224], "nice": false}, "axis": {"values": [0,0.0001,0.0002], "labelExpr": "round(datum.value*10000)", "title": "ICU"}},
    "color": {"field": "s", "type": "nominal", "legend": null},
    "strokeDash": {"field": "s", "type": "nominal", "legend": null}
   }},
  {"transform": [{"filter": "datum.s == 'J'"}],
   "mark": {"type": "line", "strokeWidth": 1.5},
   "encoding": {
    "x": {"field": "d", "type": "quantitative"},
    "y": {"field": "v", "type": "quantitative"},
    "color": {"field": "s", "type": "nominal", "legend": null},
    "strokeDash": {"field": "s", "type": "nominal", "legend": null}
   }},
  {"data": {"values": [{"t": "×10⁻⁴"}]},
   "mark": {"type": "text", "align": "left", "baseline": "bottom", "dy": -2, "fontSize": 11, "color": "#262626", "font": "Liberation Sans"},
   "encoding": {"x": {"datum": 0, "type": "quantitative"}, "y": {"datum": 0.000224, "type": "quantitative"}, "text": {"field": "t"}}}
 ]
},
{
 "width": 333, "height": 100,
 "data": {"name": "rL"},
 "mark": {"type": "line", "strokeWidth": 1, "interpolate": "monotone"},
 "encoding": {
  "x": {"field": "d", "type": "quantitative", "scale": {"domain": [0, 400], "nice": false}, "axis": {"values": [0,50,100,150,200,250,300,350,400], "title": "days"}},
  "y": {"field": "v", "type": "quantitative", "scale": {"domain": [0, 0.985], "nice": false}, "axis": {"values": [0,0.2,0.4,0.6,0.8], "format": "~g", "title": "Recovered"}},
  "color": {"field": "s", "type": "nominal", "legend": null},
  "strokeDash": {"field": "s", "type": "nominal", "legend": null}
 }
},
{
 "width": 333, "height": 100,
 "data": {"name": "rR"},
 "mark": {"type": "line", "strokeWidth": 1, "interpolate": "monotone"},
 "encoding": {
  "x": {"field": "d", "type": "quantitative", "scale": {"domain": [0, 400], "nice": false}, "axis": {"values": [0,50,100,150,200,250,300,350,400], "title": "days"}},
  "y": {"field": "v", "type": "quantitative", "scale": {"domain": [0, 0.985], "nice": false}, "axis": {"values": [0,0.2,0.4,0.6,0.8], "format": "~g", "title": "Recovered"}},
  "color": {"field": "s", "type": "nominal", "legend": null},
  "strokeDash": {"field": "s", "type": "nominal", "legend": null}
 }
},
{
 "width": 333, "height": 100,
 "data": {"name": "dL"},
 "mark": {"type": "line", "strokeWidth": 1, "interpolate": "monotone"},
 "encoding": {
  "x": {"field": "d", "type": "quantitative", "scale": {"domain": [0, 400], "nice": false}, "axis": {"values": [0,50,100,150,200,250,300,350,400], "title": "days"}},
  "y": {"field": "v", "type": "quantitative", "scale": {"domain": [0, 0.01034], "nice": false}, "axis": {"values": [0,0.005,0.01], "format": "~g", "title": "Dead"}},
  "color": {"field": "s", "type": "nominal", "legend": null},
  "strokeDash": {"field": "s", "type": "nominal", "legend": null}
 }
},
{
 "width": 333, "height": 100,
 "data": {"name": "dR"},
 "mark": {"type": "line", "strokeWidth": 1, "interpolate": "monotone"},
 "encoding": {
  "x": {"field": "d", "type": "quantitative", "scale": {"domain": [0, 400], "nice": false}, "axis": {"values": [0,50,100,150,200,250,300,350,400], "title": "days"}},
  "y": {"field": "v", "type": "quantitative", "scale": {"domain": [0, 0.01236], "nice": false}, "axis": {"values": [0,0.005,0.01], "format": "~g", "title": "Dead"}},
  "color": {"field": "s", "type": "nominal", "legend": null},
  "strokeDash": {"field": "s", "type": "nominal", "legend": null}
 }
}
]
}
